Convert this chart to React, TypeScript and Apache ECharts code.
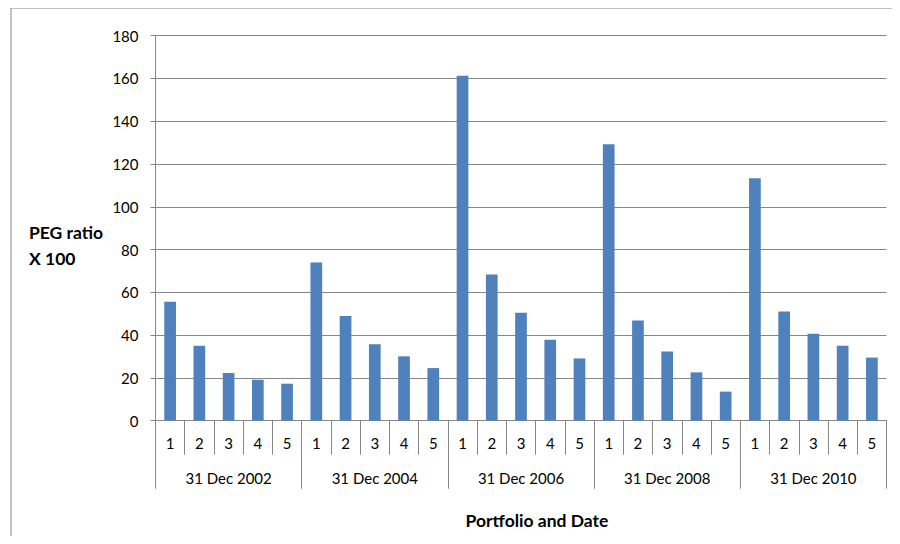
import React, { useEffect, useRef } from "react";
import * as echarts from "echarts";

const dates = ["31 Dec 2002", "31 Dec 2004", "31 Dec 2006", "31 Dec 2008", "31 Dec 2010"];
const portfolios = ["1", "2", "3", "4", "5"];
const values2002 = [55.6, 35.1, 22.3, 19.2, 17.3];
const values2004 = [74.0, 48.9, 35.7, 30.1, 24.6];
const values2006 = [161.3, 68.3, 50.5, 37.9, 29.1];
const values2008 = [129.3, 46.9, 32.4, 22.6, 13.6];
const values2010 = [113.4, 51.0, 40.7, 35.1, 29.5];
const yTicks = { min: 0, max: 180, interval: 20 };

const FONT = "Lato, 'Open Sans', sans-serif";
const GRAY = "#878787";

export default function App() {
  const ref = useRef<HTMLDivElement>(null);
  useEffect(() => {
    if (!ref.current) return;
    const chart = echarts.init(ref.current, undefined, { renderer: "svg" });
    const allValues = [values2002, values2004, values2006, values2008, values2010];
    const cats: string[] = [];
    const vals: number[] = [];
    dates.forEach((d, i) => {
      portfolios.forEach((p, j) => {
        cats.push(d + "|" + p);
        vals.push(allValues[i][j]);
      });
    });
    chart.setOption({
      animation: false,
      grid: { left: 155.5, right: 13.5, top: 35.7, bottom: 123.3, containLabel: false },
      graphic: [
        {
          type: "rect",
          shape: { x: 11, y: 8, width: 1000, height: 700 },
          style: { fill: "none", stroke: GRAY, lineWidth: 1 },
          silent: true,
        },
        {
          type: "text",
          x: 29,
          y: 232,
          style: {
            text: "PEG ratio",
            font: "bold 17.5px " + FONT,
            fill: "#000",
            verticalAlign: "middle",
          },
        },
        {
          type: "text",
          x: 29,
          y: 258,
          style: {
            text: "X 100",
            font: "bold 17.5px " + FONT,
            fill: "#000",
            verticalAlign: "middle",
          },
        },
        {
          type: "text",
          x: 537,
          y: 520,
          style: {
            text: "Portfolio and Date",
            font: "bold 17.5px " + FONT,
            fill: "#000",
            align: "center",
            verticalAlign: "middle",
          },
        },
      ],
      xAxis: [
        {
          type: "category",
          data: cats,
          position: "bottom",
          boundaryGap: true,
          axisLine: { show: true, lineStyle: { color: GRAY, width: 1 } },
          axisTick: { show: true, interval: 0, length: 34, lineStyle: { color: GRAY } },
          axisLabel: {
            interval: 0,
            margin: 14.5,
            fontSize: 15,
            fontFamily: FONT,
            color: "#000",
            formatter: (v: string) => v.split("|")[1],
          },
          splitLine: { show: false },
        },
        {
          type: "category",
          data: dates,
          position: "bottom",
          boundaryGap: true,
          axisLine: { show: false },
          axisTick: { show: true, interval: 0, length: 68, lineStyle: { color: GRAY } },
          axisLabel: {
            interval: 0,
            margin: 49.5,
            fontSize: 15,
            fontFamily: FONT,
            color: "#000",
          },
          splitLine: { show: false },
        },
      ],
      yAxis: {
        type: "value",
        min: yTicks.min,
        max: yTicks.max,
        interval: yTicks.interval,
        axisLine: { show: true, lineStyle: { color: GRAY, width: 1 } },
        axisTick: { show: true, length: 5, inside: false, lineStyle: { color: GRAY } },
        axisLabel: { margin: 17, fontSize: 15, fontFamily: FONT, color: "#000" },
        splitLine: { show: true, lineStyle: { color: GRAY, width: 1 } },
      },
      series: [
        {
          type: "bar",
          xAxisIndex: 0,
          data: vals,
          barWidth: "40%",
          itemStyle: { color: "#4F81BD" },
        },
      ],
    });
    return () => chart.dispose();
  }, []);
  return <div ref={ref} style={{ width: 900, height: 544, margin: -8 }} />;
}
